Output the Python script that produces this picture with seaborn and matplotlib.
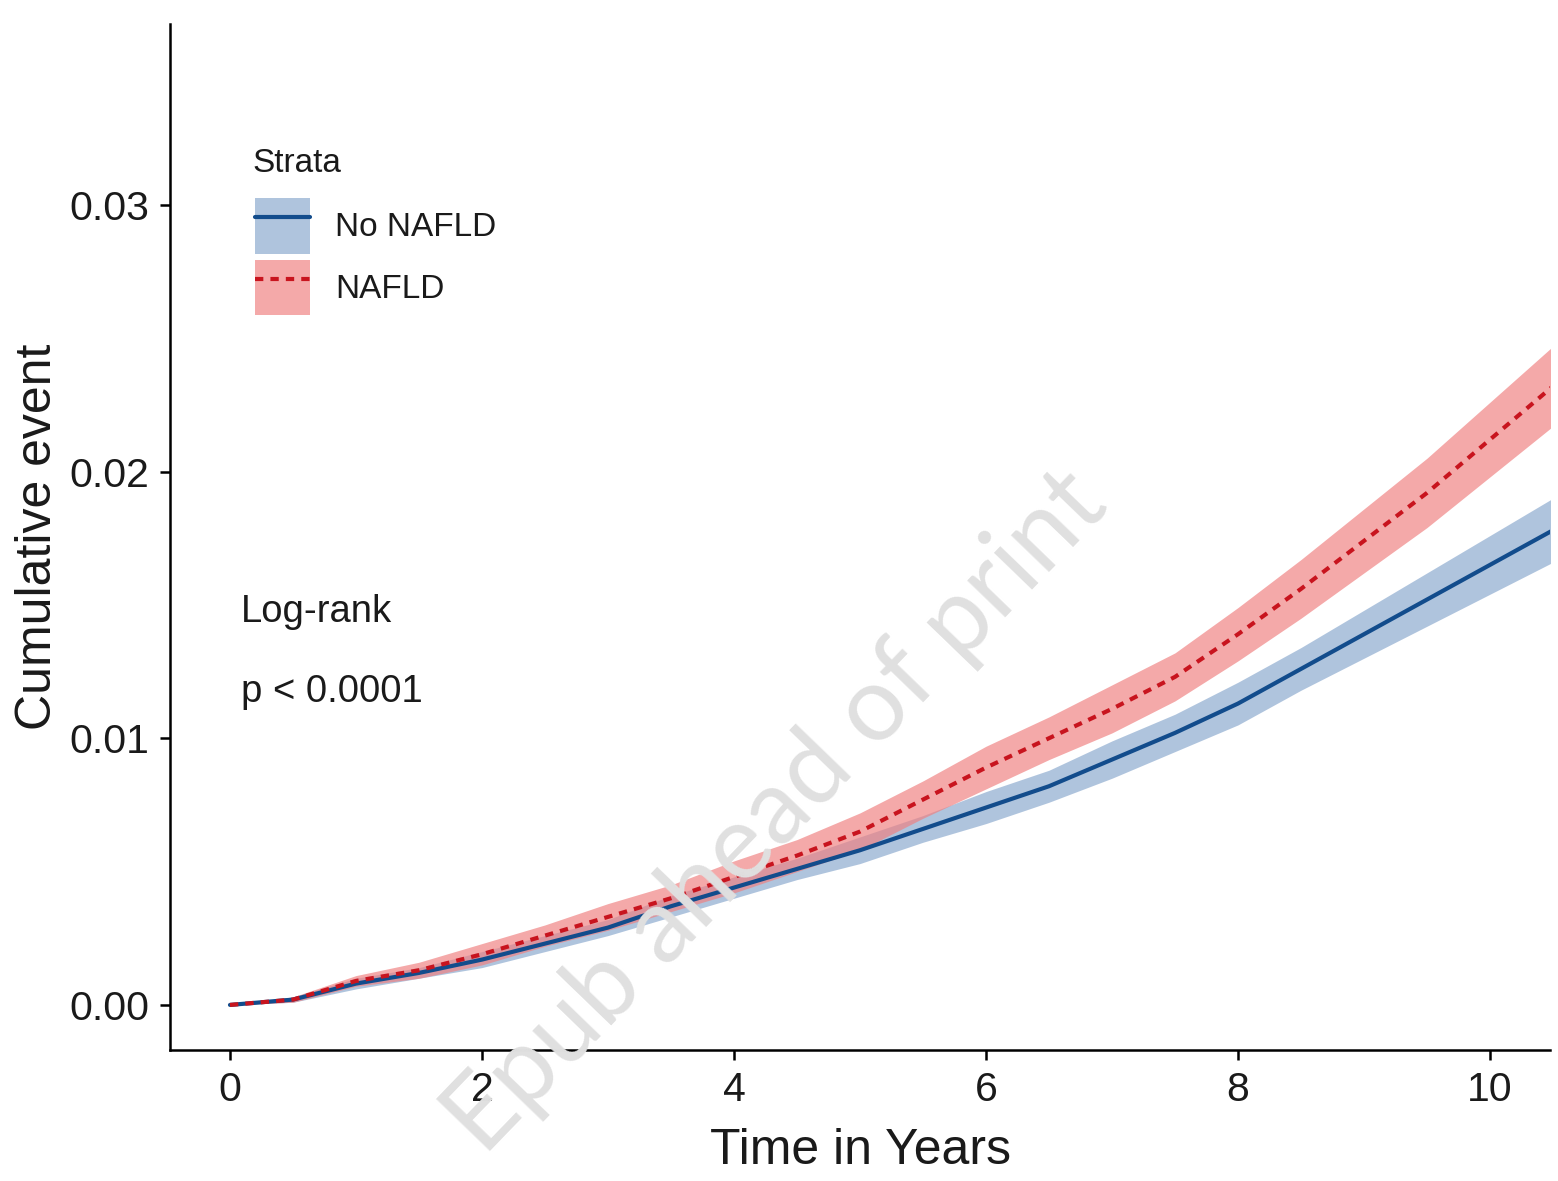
import numpy as np
import pandas as pd
import matplotlib
matplotlib.use("Agg")
import matplotlib.pyplot as plt
import seaborn as sns
from matplotlib.patches import Patch
from matplotlib.lines import Line2D

# Cumulative event curves (Kaplan-Meier, 1 - S(t)) with confidence bands
years = [0, 0.5, 1, 1.5, 2, 2.5, 3, 3.5, 4, 4.5, 5, 5.5,
         6, 6.5, 7, 7.5, 8, 8.5, 9, 9.5, 10, 10.5]

no_nafld_est = [0, 0.0002, 0.0008, 0.0012, 0.0017, 0.0023, 0.0029, 0.0037,
                0.0044, 0.0051, 0.0058, 0.0066, 0.0074, 0.0082, 0.0092,
                0.0102, 0.0113, 0.0126, 0.0139, 0.0152, 0.0165, 0.0178]
no_nafld_lo = [0, 0.0001, 0.0006, 0.0010, 0.0014, 0.0020, 0.0026, 0.0033,
               0.0040, 0.0047, 0.0053, 0.0061, 0.0068, 0.0076, 0.0085,
               0.0095, 0.0105, 0.0118, 0.0130, 0.0142, 0.0154, 0.0166]
no_nafld_hi = [0, 0.0003, 0.0010, 0.0014, 0.0020, 0.0026, 0.0032, 0.0041,
               0.0048, 0.0055, 0.0063, 0.0071, 0.0080, 0.0088, 0.0099,
               0.0109, 0.0121, 0.0134, 0.0148, 0.0162, 0.0176, 0.0190]

nafld_est = [0, 0.0002, 0.0009, 0.0013, 0.0019, 0.0026, 0.0033, 0.0040,
             0.0048, 0.0056, 0.0065, 0.0077, 0.0089, 0.0100, 0.0111,
             0.0123, 0.0139, 0.0156, 0.0174, 0.0192, 0.0212, 0.0232]
nafld_lo = [0, 0.0001, 0.0007, 0.0010, 0.0015, 0.0022, 0.0028, 0.0035,
            0.0042, 0.0050, 0.0058, 0.0070, 0.0081, 0.0092, 0.0102,
            0.0114, 0.0129, 0.0145, 0.0162, 0.0179, 0.0198, 0.0217]
nafld_hi = [0, 0.0003, 0.0011, 0.0016, 0.0023, 0.0030, 0.0038, 0.0045,
            0.0054, 0.0062, 0.0072, 0.0084, 0.0097, 0.0108, 0.0120,
            0.0132, 0.0149, 0.0167, 0.0186, 0.0205, 0.0226, 0.0247]

strata = ["No NAFLD", "NAFLD"]
x_ticks = [0, 2, 4, 6, 8, 10]
y_ticks = [0.00, 0.01, 0.02, 0.03]

line_colors = {"No NAFLD": "#124C8C", "NAFLD": "#C8141E"}
band_colors = {"No NAFLD": "#6E94C2", "NAFLD": "#F08080"}
band_alpha = {"No NAFLD": 0.55, "NAFLD": 0.68}

sns.set_theme(style="ticks")
plt.rcParams["font.family"] = ["Liberation Sans", "DejaVu Sans"]

W, H = 1558, 1181
fig = plt.figure(figsize=(W / 100, H / 100), dpi=100)
ax = fig.add_axes([170 / W, 1 - 1050 / H, (1550 - 170) / W, (1050 - 24) / H])

df = pd.concat([
    pd.DataFrame({"time": years, "cum": no_nafld_est, "strata": "No NAFLD"}),
    pd.DataFrame({"time": years, "cum": nafld_est, "strata": "NAFLD"}),
], ignore_index=True)

# confidence bands
ax.fill_between(years, no_nafld_lo, no_nafld_hi, color=band_colors["No NAFLD"],
                alpha=band_alpha["No NAFLD"], lw=0, zorder=1)
ax.fill_between(years, nafld_lo, nafld_hi, color=band_colors["NAFLD"],
                alpha=band_alpha["NAFLD"], lw=0, zorder=1)

line_w = 3.0
dash_nafld = (2.0, 1.7)
sns.lineplot(data=df, x="time", y="cum", hue="strata", style="strata",
             hue_order=strata, style_order=strata, palette=line_colors,
             dashes={"No NAFLD": "", "NAFLD": dash_nafld},
             linewidth=line_w, estimator=None, sort=False, legend=False,
             ax=ax, zorder=3)

ax.set_xlim(-0.476, 10.476)
ax.set_ylim(-0.00169, 0.03678)
ax.set_xticks(x_ticks)
ax.set_xticklabels([str(t) for t in x_ticks])
ax.set_yticks(y_ticks)
ax.set_yticklabels([f"{v:.2f}" for v in y_ticks])

sns.despine(ax=ax)
for side in ("left", "bottom"):
    ax.spines[side].set_linewidth(1.8)
    ax.spines[side].set_color("black")
ax.tick_params(axis="both", length=7, width=1.8, pad=8, labelsize=29.5,
               colors="black", labelcolor="#1a1a1a")

ax.set_xlabel("Time in Years", fontsize=36, color="#1a1a1a")
ax.set_ylabel("Cumulative event", fontsize=36, color="#1a1a1a")
ax.xaxis.set_label_coords(0.5, -0.076)
ax.yaxis.set_label_coords(-0.079, 0.5)

# log-rank annotation
ax.text(0.09, 0.01436, "Log-rank", fontsize=27.5, ha="left", va="baseline",
        color="#1a1a1a")
ax.text(0.09, 0.01136, "p < 0.0001", fontsize=27.5, ha="left", va="baseline",
        color="#1a1a1a")

# legend: band patch with the line drawn on top
fig.text(252 / W, 1 - 163 / H, "Strata", fontsize=24, ha="left", va="center",
         color="#1a1a1a")
handles = []
for s in strata:
    patch = Patch(facecolor=band_colors[s], alpha=band_alpha[s], lw=0)
    if s == "NAFLD":
        ln = Line2D([], [], color=line_colors[s], lw=line_w, dashes=dash_nafld)
    else:
        ln = Line2D([], [], color=line_colors[s], lw=line_w)
    handles.append((patch, ln))
leg = ax.legend(handles, strata, loc="upper left",
                bbox_to_anchor=(255 / W, 1 - 198 / H),
                bbox_transform=fig.transFigure, frameon=False,
                fontsize=24, handlelength=1.65, handleheight=2.19,
                labelspacing=0.18, handletextpad=0.75,
                borderpad=0, borderaxespad=0)
for t in leg.get_texts():
    t.set_color("#1a1a1a")

# watermark
fig.text(776 / W, 1 - 812 / H, "Epub ahead of print", rotation=46,
         ha="center", va="center", fontsize=75, color="#e0e0e0",
         fontfamily=["Lato", "DejaVu Sans"], fontweight="normal", zorder=10)

fig.savefig("out.png", dpi=100)
